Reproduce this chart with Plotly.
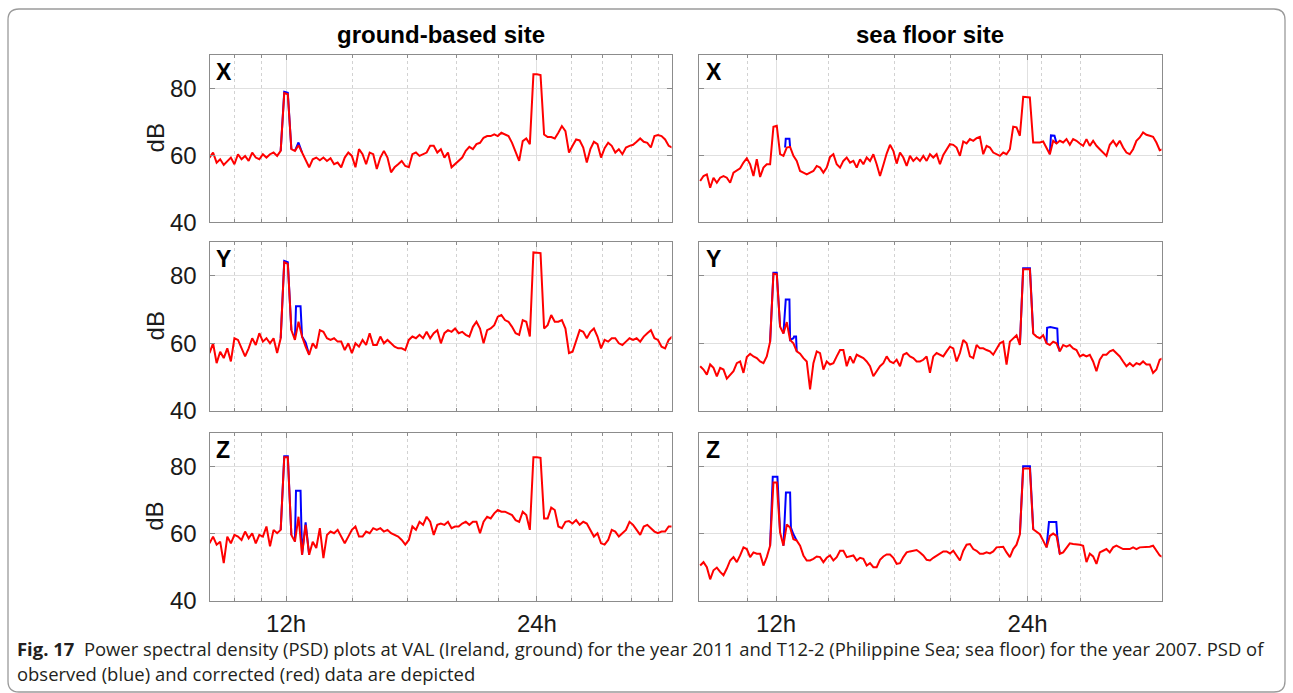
import numpy as np
import plotly.graph_objects as go

W, H = 1293, 693          # target picture size (pixels)
H_FIG = 707               # figure height requested from plotly

# ---------------- data (periods in hours, PSD in dB) ----------------
# sampled periods: evenly spaced on a log scale between these ends
GROUND_PERIOD_START, GROUND_PERIOD_END = 9.712, 34.88
SEA_PERIOD_START, SEA_PERIOD_END = 9.734, 34.87

# corrected (red) PSD, ground-based site (VAL)
GX = [59.3, 60.8, 57.8, 58.8, 57.1, 58.3, 59.3, 57.3, 60.3, 58.8,
      59.8, 58.3, 60.8, 59.3, 58.8, 60.3, 59.3, 60.3, 60.8, 59.8,
      61.3, 78.5, 78.2, 61.8, 61.3, 63.0, 60.8, 58.3, 56.4, 58.8,
      59.3, 58.5, 59.3, 58.3, 59.1, 57.3, 57.8, 56.4, 59.3, 60.8,
      59.8, 56.4, 61.8, 60.3, 57.3, 60.8, 60.3, 55.9, 59.3, 61.3,
      59.3, 54.9, 56.4, 57.3, 58.3, 56.8, 56.4, 60.3, 60.8, 59.8,
      60.3, 60.8, 62.8, 62.8, 60.8, 61.8, 59.3, 60.8, 56.4, 57.3,
      58.3, 59.3, 61.3, 62.5, 61.8, 63.3, 63.7, 65.2, 65.7, 65.7,
      66.2, 65.7, 66.7, 66.2, 65.7, 63.7, 60.8, 58.3, 64.2, 65.0,
      63.3, 84.1, 84.1, 83.9, 66.2, 65.4, 65.4, 65.0, 66.7, 68.7,
      67.2, 60.8, 62.8, 64.7, 64.4, 62.3, 57.8, 61.8, 64.0, 63.3,
      59.3, 62.1, 63.7, 62.8, 60.8, 61.8, 60.3, 62.3, 62.8, 63.1,
      64.0, 65.0, 64.0, 63.7, 62.3, 65.7, 66.0, 65.7, 64.7, 62.8,
      62.3]
GY = [57.1, 60.0, 54.1, 57.5, 55.6, 58.5, 54.6, 61.5, 61.0, 58.5,
      56.1, 58.5, 61.5, 59.5, 63.0, 60.5, 61.5, 60.0, 61.5, 57.1,
      61.5, 84.1, 83.6, 63.9, 61.0, 66.4, 62.0, 59.0, 56.6, 60.0,
      58.5, 63.9, 63.4, 61.5, 61.0, 61.5, 60.5, 60.5, 58.0, 60.0,
      57.1, 60.0, 59.0, 61.0, 59.5, 63.0, 59.5, 59.5, 62.0, 60.0,
      61.0, 60.0, 59.0, 58.5, 58.5, 58.0, 61.0, 62.0, 61.5, 62.5,
      61.5, 63.4, 61.5, 63.0, 63.9, 60.0, 63.0, 63.9, 63.4, 64.4,
      63.0, 63.4, 62.5, 62.0, 64.9, 66.4, 64.4, 60.0, 63.9, 64.4,
      65.4, 67.9, 68.4, 66.9, 66.4, 64.9, 63.0, 62.5, 66.9, 66.4,
      62.0, 87.0, 87.0, 86.8, 64.4, 65.4, 68.4, 66.4, 66.4, 66.9,
      64.4, 57.1, 57.5, 61.0, 63.9, 63.4, 61.5, 63.4, 64.4, 62.0,
      58.5, 61.0, 60.5, 61.5, 61.5, 60.0, 59.5, 60.5, 61.5, 61.0,
      61.5, 60.5, 62.0, 63.0, 63.9, 61.5, 61.0, 59.0, 58.5, 61.0,
      62.0]
GZ = [57.1, 59.1, 56.7, 57.6, 51.2, 59.1, 57.1, 59.6, 59.1, 58.1,
      60.6, 58.6, 60.1, 57.1, 59.6, 59.1, 62.1, 56.2, 61.1, 60.1,
      61.1, 82.7, 82.7, 59.6, 57.6, 65.0, 53.7, 62.6, 53.7, 57.6,
      55.7, 61.6, 52.7, 59.6, 60.6, 60.1, 61.1, 59.1, 57.1, 59.1,
      61.1, 62.1, 59.1, 59.1, 60.6, 60.1, 61.6, 61.1, 61.6, 60.6,
      61.1, 60.1, 59.6, 59.1, 58.1, 56.7, 58.1, 62.1, 61.1, 63.5,
      62.6, 65.0, 63.5, 59.6, 62.6, 63.0, 62.6, 63.5, 61.6, 62.1,
      62.1, 63.0, 63.5, 62.6, 63.5, 63.5, 60.1, 63.5, 65.0, 64.5,
      66.0, 67.0, 66.5, 66.5, 66.0, 65.5, 64.0, 63.5, 66.5, 65.5,
      61.1, 82.7, 82.7, 82.5, 64.5, 64.5, 67.7, 67.0, 62.1, 61.6,
      63.5, 63.7, 63.0, 64.0, 62.6, 63.5, 63.0, 61.1, 59.1, 60.1,
      57.1, 56.7, 58.1, 61.1, 60.6, 59.1, 60.1, 61.1, 63.5, 62.6,
      61.1, 59.6, 62.1, 62.6, 61.6, 60.6, 60.1, 60.6, 60.6, 62.1,
      62.1]

# corrected (red) PSD, sea floor site (T12-2)
SX = [52.3, 53.8, 54.3, 50.3, 53.3, 51.8, 53.3, 53.8, 53.3, 51.8,
      54.8, 55.5, 56.1, 57.8, 59.1, 57.3, 53.8, 58.8, 53.5, 56.3,
      57.3, 57.3, 68.5, 68.8, 60.3, 59.8, 62.3, 62.5, 59.8, 58.3,
      55.3, 54.8, 54.3, 54.8, 55.3, 56.8, 56.3, 54.8, 56.3, 59.5,
      60.3, 57.3, 56.3, 58.3, 59.3, 57.8, 58.3, 56.3, 58.8, 57.3,
      59.3, 58.3, 60.3, 57.3, 53.8, 57.1, 60.5, 63.1, 61.3, 57.5,
      60.8, 59.3, 56.8, 59.8, 58.3, 59.3, 58.3, 59.8, 58.3, 60.3,
      59.3, 60.3, 57.3, 60.1, 61.8, 63.3, 63.1, 62.3, 59.8, 64.1,
      63.5, 64.8, 64.3, 65.1, 65.5, 60.3, 62.8, 62.3, 60.8, 60.3,
      59.8, 60.8, 60.3, 61.8, 68.5, 68.3, 65.8, 77.4, 77.4, 77.2,
      63.8, 63.8, 63.8, 64.1, 62.3, 60.3, 64.3, 63.5, 64.3, 63.8,
      64.8, 63.1, 64.8, 64.3, 63.5, 62.8, 64.8, 62.8, 64.3, 62.8,
      61.8, 60.8, 59.8, 63.1, 64.3, 62.8, 64.3, 62.3, 60.8, 60.3,
      61.8, 64.3, 65.3, 66.8, 66.1, 65.8, 65.5, 63.8, 61.5, 61.8]
SY = [53.2, 52.2, 50.7, 53.7, 52.7, 50.2, 52.7, 52.2, 49.5, 50.7,
      51.7, 54.1, 54.6, 51.2, 55.9, 56.9, 56.1, 55.6, 54.6, 54.1,
      56.1, 60.5, 80.7, 80.5, 64.9, 62.9, 66.3, 61.0, 60.0, 57.6,
      56.9, 55.6, 54.6, 46.3, 54.1, 57.6, 57.1, 52.2, 54.6, 53.7,
      54.1, 56.1, 58.0, 58.0, 53.2, 56.1, 54.1, 56.6, 56.1, 55.6,
      54.6, 53.2, 50.2, 51.7, 53.2, 54.1, 56.1, 54.6, 54.1, 55.1,
      53.2, 56.6, 57.1, 56.1, 55.6, 54.6, 54.6, 55.1, 56.1, 51.2,
      56.1, 57.1, 56.6, 56.1, 57.6, 59.0, 58.5, 54.6, 57.1, 61.0,
      60.0, 56.1, 55.6, 59.5, 58.5, 58.5, 58.0, 57.6, 56.6, 58.5,
      60.0, 60.5, 53.7, 60.5, 61.5, 62.4, 59.5, 82.0, 82.0, 82.0,
      62.9, 62.0, 61.5, 62.4, 60.0, 59.5, 60.5, 60.0, 57.6, 59.5,
      59.0, 59.5, 58.5, 58.0, 56.1, 56.6, 56.1, 56.6, 54.6, 51.7,
      55.1, 56.6, 56.6, 57.6, 58.0, 57.1, 56.1, 54.6, 53.2, 54.1,
      53.2, 54.1, 53.7, 54.6, 53.7, 53.7, 51.2, 52.2, 55.1, 55.6]
SZ = [50.5, 51.5, 50.0, 46.4, 49.1, 49.9, 48.6, 47.6, 49.6, 52.0,
      53.0, 51.5, 53.5, 55.9, 55.4, 53.0, 54.4, 54.0, 54.0, 50.5,
      53.0, 56.4, 75.2, 75.2, 60.3, 56.4, 62.7, 61.8, 58.3, 57.9,
      56.4, 53.5, 52.0, 52.0, 52.5, 53.2, 53.0, 51.5, 52.8, 53.5,
      52.0, 53.0, 54.9, 54.9, 53.0, 53.2, 53.5, 52.0, 52.8, 52.5,
      50.5, 51.2, 50.0, 50.0, 52.2, 53.2, 53.8, 53.8, 52.8, 51.0,
      51.2, 53.0, 54.4, 54.7, 54.9, 55.1, 54.4, 53.5, 52.2, 52.0,
      52.8, 53.5, 54.1, 54.7, 54.7, 54.1, 54.9, 53.5, 52.0, 54.9,
      56.7, 56.9, 55.4, 54.9, 54.0, 54.0, 54.4, 54.1, 54.7, 55.9,
      56.1, 56.1, 54.4, 53.0, 55.4, 56.7, 59.8, 79.3, 79.3, 79.3,
      61.3, 60.6, 59.8, 57.9, 55.9, 59.3, 60.0, 59.3, 54.0, 54.4,
      55.9, 57.1, 56.9, 56.9, 56.7, 56.4, 51.5, 54.0, 53.2, 51.0,
      54.4, 54.9, 55.4, 54.4, 55.9, 56.4, 55.9, 55.4, 55.4, 55.4,
      55.9, 55.4, 55.9, 55.9, 55.9, 56.1, 56.4, 54.9, 53.5, 53.0]

# observed (blue) PSD where it departs from the corrected one (period h, dB)
GX_BLUE_H = [11.823, 11.94, 12.058, 12.177, None, 12.297, 12.419, 12.542]
GX_BLUE_DB = [61.3, 78.9, 78.6, 61.8, None, 61.3, 63.8, 60.8]
GY_BLUE_H = [11.823, 11.94, 12.058, 12.177, None, 12.297, 12.334, 12.49, 12.517, 12.542, 12.666, 12.79]
GY_BLUE_DB = [61.5, 84.5, 84.1, 63.9, None, 61.0, 71.0, 71.0, 62.5, 62.0, 60.3, 56.6]
GZ_BLUE_H = [11.823, 11.94, 12.058, 12.177, None, 12.297, 12.334, 12.49, 12.517, 12.542, 12.666, 12.79]
GZ_BLUE_DB = [61.1, 83.0, 83.0, 59.6, None, 57.6, 72.7, 72.7, 60.0, 53.7, 63.3, 53.7]
SX_BLUE_H = [12.301, 12.324, 12.449, 12.472, None, 25.52, 25.60, 25.85, 26.0]
SX_BLUE_DB = [62.3, 64.9, 64.9, 62.5, None, 60.3, 65.9, 65.8, 63.5]
SY_BLUE_H = [11.803, 11.912, 12.022, 12.133, None, 12.245, 12.324, 12.449, 12.472, 12.587, 12.61, 12.679, 12.702,
             None, 23.50, 23.71, 24.16, 24.38, None, 25.29, 25.33, 25.55, 26.05, 26.10, 26.23]
SY_BLUE_DB = [60.5, 81.0, 81.0, 64.9, None, 62.9, 73.0, 73.0, 61.0, 61.5, 62.0, 62.0, 57.6,
              None, 59.5, 82.3, 82.3, 62.9, None, 60.0, 64.6, 64.8, 64.4, 59.5, 57.6]
SZ_BLUE_H = [11.803, 11.89, 12.044, 12.133, None, 12.245, 12.33, 12.472, 12.50, 12.587, 12.702,
             None, 23.50, 23.71, 24.16, 24.38, None, 25.29, 25.46, 25.98, 26.05, 26.23]
SZ_BLUE_DB = [56.4, 76.9, 76.9, 60.3, None, 56.4, 72.2, 72.2, 61.8, 59.8, 57.9,
              None, 59.8, 80.0, 80.0, 61.3, None, 55.9, 63.4, 63.4, 59.3, 54.0]

TICK_VALS = [12, 24]
TICK_TEXT = ["12h", "24h"]
GROUND_MINOR = [10.4, 11.2, 14.4, 16.8, 19.2, 21.6, 26.4, 28.8, 31.2, 33.6]
SEA_MINOR = [11.1, 13.86, 16.63, 19.41, 22.2, 24.97, 27.75]
GROUND_RANGE = [9.712, 34.81]
SEA_RANGE = [9.689, 34.72]
Y_TICKS = [40, 60, 80]
COMPONENTS = ["X", "Y", "Z"]
TITLES = ["ground-based site", "sea floor site"]
CAPTION_1 = ("<b>Fig. 17</b>\u00a0\u00a0Power spectral density (PSD) plots at VAL (Ireland, ground) for the year 2011 "
             "and T12-2 (Philippine Sea; sea floor) for the year 2007. PSD of")
CAPTION_2 = "observed (blue) and corrected (red) data are depicted"

# ---------------- layout geometry (target pixels in a 1293x693 picture) ----------------
COLS = [(209.5, 671.5), (698.5, 1161.5)]
ROWS = [(54.5, 222.0), (242.0, 410.0), (432.0, 600.0)]

def xd(a, b):
    return [a / W, b / W]

def fy(y):
    return (H - y) / H

def yd(top, bottom):
    return [fy(bottom), fy(top)]

FONT = "Liberation Sans, Arial, Helvetica, sans-serif"
FRAME = "#8c8c8c"
TXT = "#1a1a1a"

panels = [
    (0, 0, GX, GX_BLUE_H, GX_BLUE_DB),
    (0, 1, SX, SX_BLUE_H, SX_BLUE_DB),
    (1, 0, GY, GY_BLUE_H, GY_BLUE_DB),
    (1, 1, SY, SY_BLUE_H, SY_BLUE_DB),
    (2, 0, GZ, GZ_BLUE_H, GZ_BLUE_DB),
    (2, 1, SZ, SZ_BLUE_H, SZ_BLUE_DB),
]

fig = go.Figure()
layout = dict(
    width=W, height=H_FIG, autosize=False, margin=dict(l=0, r=0, t=0, b=0, pad=0),
    paper_bgcolor="white", plot_bgcolor="white", showlegend=False,
    font=dict(family=FONT, color=TXT),
)
annotations = []

for i, (r, c, red, bh, bdb) in enumerate(panels):
    n = i + 1
    xs = "" if n == 1 else str(n)
    if c == 0:
        periods = np.geomspace(GROUND_PERIOD_START, GROUND_PERIOD_END, len(red))
        rng, minor = GROUND_RANGE, GROUND_MINOR
    else:
        periods = np.geomspace(SEA_PERIOD_START, SEA_PERIOD_END, len(red))
        rng, minor = SEA_RANGE, SEA_MINOR
    fig.add_trace(go.Scatter(x=bh, y=bdb, mode="lines", line=dict(color="#0000ff", width=2),
                             xaxis="x" + xs, yaxis="y" + xs, connectgaps=False, hoverinfo="skip"))
    fig.add_trace(go.Scatter(x=periods, y=red, mode="lines", line=dict(color="#ff0000", width=2),
                             xaxis="x" + xs, yaxis="y" + xs, hoverinfo="skip"))
    x0, x1 = COLS[c]
    top, bot = ROWS[r]
    layout["xaxis" + xs] = dict(
        type="log", domain=xd(x0, x1), range=[np.log10(rng[0]), np.log10(rng[1])],
        anchor="y" + xs, tickmode="array", tickvals=TICK_VALS, ticktext=TICK_TEXT,
        showticklabels=(r == 2), ticks="inside", ticklen=5, tickcolor=FRAME, tickwidth=1,
        showline=True, linecolor=FRAME, linewidth=1, mirror="allticks",
        showgrid=True, gridcolor="#e0e0e0", gridwidth=1, zeroline=False,
        tickfont=dict(family=FONT, size=24, color=TXT), ticklabelstandoff=1,
        minor=dict(tickmode="array", tickvals=minor, ticks="inside", ticklen=3,
                   tickcolor=FRAME, showgrid=True, gridcolor="#d2d2d2", griddash="dot", gridwidth=1),
    )
    layout["yaxis" + xs] = dict(
        domain=yd(top, bot), range=[40, 90], anchor="x" + xs,
        tickmode="array", tickvals=Y_TICKS, showticklabels=(c == 0),
        ticks="inside", ticklen=5, tickcolor=FRAME, tickwidth=1,
        showline=True, linecolor=FRAME, linewidth=1, mirror="allticks",
        showgrid=True, gridcolor="#e0e0e0", gridwidth=1, zeroline=False,
        tickfont=dict(family=FONT, size=24, color=TXT), ticklabelstandoff=7,
    )
    # component letter
    annotations.append(dict(
        text="<b>%s</b>" % COMPONENTS[r], xref="paper", yref="paper",
        x=(x0 + 5) / W, y=fy(top + 2), xanchor="left", yanchor="top",
        showarrow=False, font=dict(family=FONT, size=23, color="black")))
    if c == 0:
        annotations.append(dict(
            text="dB", xref="paper", yref="paper", x=155 / W, y=fy((top + bot) / 2),
            xanchor="center", yanchor="middle", textangle=-90, showarrow=False,
            font=dict(family=FONT, size=24, color=TXT)))

for c, t in enumerate(TITLES):
    x0, x1 = COLS[c]
    annotations.append(dict(
        text="<b>%s</b>" % t, xref="paper", yref="paper", x=(x0 + x1) / 2 / W, y=fy(34.5),
        xanchor="center", yanchor="middle", showarrow=False,
        font=dict(family=FONT, size=24, color="black")))

CAP_FONT = dict(family="Open Sans, sans-serif", size=18.45, color="#231f20")
annotations.append(dict(
    text=CAPTION_1, xref="paper", yref="paper", x=16 / W, y=fy(648),
    xanchor="left", yanchor="middle", showarrow=False, font=CAP_FONT, borderpad=0))
annotations.append(dict(
    text=CAPTION_2, xref="paper", yref="paper", x=16 / W, y=fy(673),
    xanchor="left", yanchor="middle", showarrow=False, font=CAP_FONT, borderpad=0))

layout["annotations"] = annotations

# rounded outer frame
bx0, bx1, by0, by1, rad = 8, 1285, 9, 691, 11
def P(x, y):
    return "%.6f,%.6f" % (x / W, fy(y))
path = ("M " + P(bx0 + rad, by0) + " L " + P(bx1 - rad, by0) + " Q " + P(bx1, by0) + " " + P(bx1, by0 + rad) +
        " L " + P(bx1, by1 - rad) + " Q " + P(bx1, by1) + " " + P(bx1 - rad, by1) +
        " L " + P(bx0 + rad, by1) + " Q " + P(bx0, by1) + " " + P(bx0, by1 - rad) +
        " L " + P(bx0, by0 + rad) + " Q " + P(bx0, by0) + " " + P(bx0 + rad, by0) + " Z")
layout["shapes"] = [dict(type="path", path=path, xref="paper", yref="paper",
                         line=dict(color="#9a9a9a", width=1.3), layer="below")]

fig.update_layout(**layout)
fig.write_html("out.html", config={"displayModeBar": False, "responsive": False},
               post_script="document.body.style.margin='0';document.body.style.overflow='hidden';")
